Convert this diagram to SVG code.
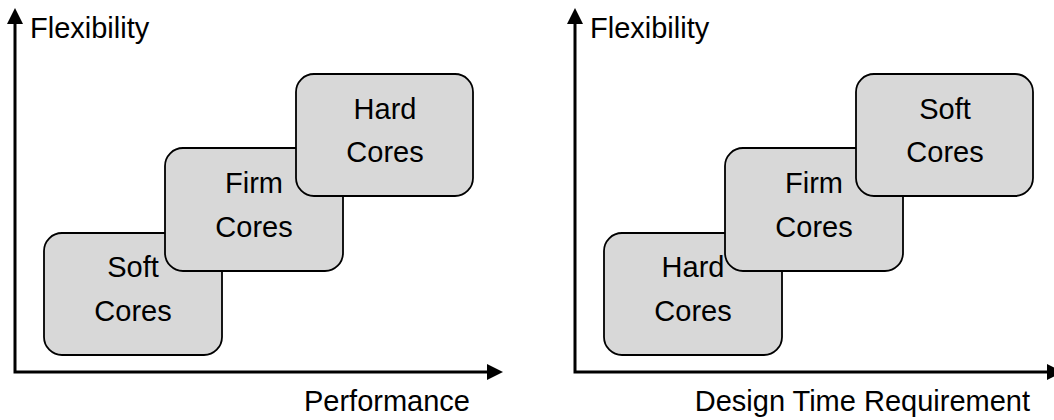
<svg xmlns="http://www.w3.org/2000/svg" width="1054" height="420" viewBox="0 0 1054 420">
  <style>
    .core rect { fill: #d8d8d8; stroke: #000; stroke-width: 1.8; }
    text { font-family: "Liberation Sans", Arial, sans-serif; font-size: 29px; fill: #000; }
    .core text { text-anchor: middle; }
    .axis { fill: none; stroke: #000; stroke-width: 3; }
  </style>
  <defs>
    <marker id="head" viewBox="0 0 16 16" refX="0" refY="8" markerWidth="16" markerHeight="16" markerUnits="userSpaceOnUse" orient="auto-start-reverse">
      <path d="M0,0 L16,8 L0,16 z" fill="#000"/>
    </marker>
  </defs>

  <!-- Axes -->
  <g id="connectors">
    <polyline class="axis" points="15,24 15,372 487,372" marker-start="url(#head)" marker-end="url(#head)"/>
    <polyline class="axis" points="575,24 575,372 1047,372" marker-start="url(#head)" marker-end="url(#head)"/>
  </g>

  <!-- Axis labels -->
  <g id="labels">
    <text x="30" y="38">Flexibility</text>
    <text x="470" y="411" text-anchor="end">Performance</text>
    <text x="590" y="38">Flexibility</text>
    <text x="1030" y="411" text-anchor="end">Design Time Requirement</text>
  </g>

  <!-- Left panel: performance ordering -->
  <g id="left-soft" class="core">
    <rect x="44" y="233" width="178" height="122" rx="18"/>
    <text x="133" y="277">Soft</text>
    <text x="133" y="321">Cores</text>
  </g>
  <g id="left-firm" class="core">
    <rect x="165" y="148" width="178" height="123" rx="18"/>
    <text x="254" y="193">Firm</text>
    <text x="254" y="237">Cores</text>
  </g>
  <g id="left-hard" class="core">
    <rect x="296" y="74" width="177" height="122" rx="18"/>
    <text x="385" y="119">Hard</text>
    <text x="385" y="162">Cores</text>
  </g>

  <!-- Right panel: design time ordering -->
  <g id="right-hard" class="core">
    <rect x="604" y="233" width="178" height="122" rx="18"/>
    <text x="693" y="277">Hard</text>
    <text x="693" y="321">Cores</text>
  </g>
  <g id="right-firm" class="core">
    <rect x="725" y="148" width="178" height="123" rx="18"/>
    <text x="814" y="193">Firm</text>
    <text x="814" y="237">Cores</text>
  </g>
  <g id="right-soft" class="core">
    <rect x="856" y="74" width="177" height="122" rx="18"/>
    <text x="945" y="119">Soft</text>
    <text x="945" y="162">Cores</text>
  </g>
</svg>
